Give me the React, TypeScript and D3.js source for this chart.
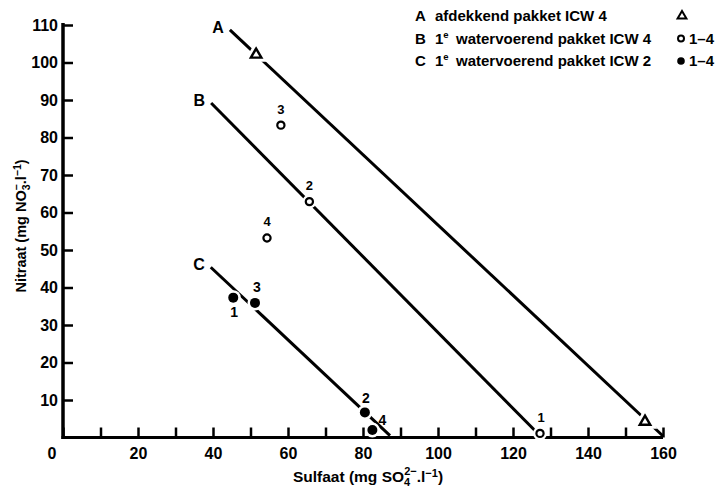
import React, { useEffect, useRef } from "react";
import * as d3 from "d3";

// axis ticks
const xTickValues = [0, 10, 20, 30, 40, 50, 60, 70, 80, 90, 100, 110, 120, 130, 140, 150, 160];
const yTickValues = [10, 20, 30, 40, 50, 60, 70, 80, 90, 100, 110];

// regression lines (end points)
const lineA = [
  { x: 44.5, y: 108.7 },
  { x: 160, y: 0.4 },
];
const lineB = [
  { x: 39.5, y: 89.2 },
  { x: 126.5, y: 1.2 },
];
const lineC = [
  { x: 39.4, y: 45.4 },
  { x: 87.2, y: 0.5 },
];

// measured points
const pointsA = [
  { x: 51.5, y: 102.1 },
  { x: 155.2, y: 4.2 },
];
const pointsB = [
  { id: "1", x: 127.2, y: 1.1 },
  { id: "2", x: 65.7, y: 62.9 },
  { id: "3", x: 58.1, y: 83.3 },
  { id: "4", x: 54.4, y: 53.2 },
];
const pointsC = [
  { id: "1", x: 45.4, y: 37.3 },
  { id: "2", x: 80.5, y: 6.7 },
  { id: "3", x: 51.2, y: 35.9 },
  { id: "4", x: 82.5, y: 2.0 },
];

const legendRows = [
  { key: "A", text: "afdekkend pakket ICW 4", sup: "", range: "" },
  { key: "B", text: "watervoerend pakket ICW 4", sup: "e", range: "1\u20134" },
  { key: "C", text: "watervoerend pakket ICW 2", sup: "e", range: "1\u20134" },
];

const FONT = "'Liberation Sans', Arial, Helvetica, sans-serif";

export default function App() {
  const ref = useRef(null);

  useEffect(() => {
    const w = 720;
    const h = 488;

    const svg = d3.select(ref.current);
    svg.selectAll("*").remove();
    svg.attr("width", w).attr("height", h);

    const x = d3.scaleLinear().domain([0, 160]).range([63, 663]);
    const y = d3.scaleLinear().domain([0, 110]).range([437.5, 25]);

    const g = svg
      .append("g")
      .style("font-family", FONT)
      .style("font-weight", "bold");

    // y axis
    const yAxis = d3
      .axisLeft(y)
      .tickValues(yTickValues)
      .tickSizeInner(-10)
      .tickSizeOuter(0)
      .tickPadding(5)
      .tickFormat((d) => String(d));
    const ya = g.append("g").attr("transform", `translate(${x(0)},0)`).call(yAxis);
    ya.select(".domain").attr("stroke-width", 3.5).attr("d", `M0,${y(0) + 1.5}V${y(110) - 2}`);
    ya.selectAll(".tick line").attr("stroke-width", 2.5);
    ya.selectAll(".tick text")
      .attr("font-size", 16)
      .attr("font-family", FONT)
      .attr("font-weight", "bold")
      .attr("fill", "#000");

    // x axis
    const xAxis = d3
      .axisBottom(x)
      .tickValues(xTickValues)
      .tickSizeInner(-10)
      .tickSizeOuter(0)
      .tickPadding(10)
      .tickFormat((d) => (d % 20 === 0 && d > 0 ? String(d) : ""));
    const xa = g.append("g").attr("transform", `translate(0,${y(0)})`).call(xAxis);
    xa.select(".domain").attr("stroke-width", 3).attr("d", `M${x(0) - 1.5},0H${x(160)}`);
    xa.selectAll(".tick line").attr("stroke-width", 2.5);
    xa.selectAll(".tick text")
      .attr("font-size", 16)
      .attr("font-family", FONT)
      .attr("font-weight", "bold")
      .attr("fill", "#000");
    g.append("text")
      .attr("x", x(0) - 11)
      .attr("y", y(0) + 21)
      .attr("text-anchor", "middle")
      .attr("font-size", 16)
      .text("0");

    // axis titles
    const yt = g
      .append("text")
      .attr("transform", `translate(26,226) rotate(-90)`)
      .attr("text-anchor", "middle")
      .attr("font-size", 14.5);
    yt.append("tspan").text("Nitraat (mg NO");
    yt.append("tspan").attr("dy", 4).attr("font-size", 10.5).text("3");
    yt.append("tspan").attr("dx", -6).attr("dy", -10).attr("font-size", 10.5).text("\u2212");
    yt.append("tspan").attr("dy", 6).text(".l");
    yt.append("tspan").attr("dy", -5).attr("font-size", 10.5).text("\u22121");
    yt.append("tspan").attr("dy", 5).text(")");

    const xt = g
      .append("text")
      .attr("x", 368)
      .attr("y", 482)
      .attr("text-anchor", "middle")
      .attr("font-size", 15.5);
    xt.append("tspan").text("Sulfaat (mg SO");
    xt.append("tspan").attr("dy", 4).attr("font-size", 11).text("4");
    xt.append("tspan").attr("dx", -6).attr("dy", -11).attr("font-size", 11).text("2\u2212");
    xt.append("tspan").attr("dy", 7).text(".l");
    xt.append("tspan").attr("dy", -5).attr("font-size", 11).text("\u22121");
    xt.append("tspan").attr("dy", 5).text(")");

    // lines
    const line = d3
      .line()
      .x((d) => x(d.x))
      .y((d) => y(d.y));

    const lines = [
      { key: "A", data: lineA },
      { key: "B", data: lineB },
      { key: "C", data: lineC },
    ];
    lines.forEach((l) => {
      g.append("path")
        .attr("d", line(l.data))
        .attr("fill", "none")
        .attr("stroke", "#000")
        .attr("stroke-width", 3);
      g.append("text")
        .attr("x", x(l.data[0].x) - 6)
        .attr("y", y(l.data[0].y) + 3)
        .attr("text-anchor", "end")
        .attr("font-size", 16)
        .text(l.key);
    });

    // triangles (A)
    const tri = d3.symbol().type(d3.symbolTriangle).size(48);
    pointsA.forEach((p) => {
      g.append("path")
        .attr("d", tri())
        .attr("transform", `translate(${x(p.x)},${y(p.y)})`)
        .attr("fill", "#fff")
        .attr("stroke", "#fff")
        .attr("stroke-width", 8);
      g.append("path")
        .attr("d", tri())
        .attr("transform", `translate(${x(p.x)},${y(p.y)})`)
        .attr("fill", "#fff")
        .attr("stroke", "#000")
        .attr("stroke-width", 2.4);
    });

    // label offsets for point numbers
    const offB = { "1": [1, -11], "2": [0, -12], "3": [0, -11], "4": [0, -12] };
    const offC = { "1": [1, 19], "2": [1, -9], "3": [2, -11], "4": [10, -5] };

    pointsB.forEach((p) => {
      g.append("circle")
        .attr("cx", x(p.x))
        .attr("cy", y(p.y))
        .attr("r", 7)
        .attr("fill", "#fff");
      g.append("circle")
        .attr("cx", x(p.x))
        .attr("cy", y(p.y))
        .attr("r", 3.6)
        .attr("fill", "#fff")
        .attr("stroke", "#000")
        .attr("stroke-width", 2.2);
      g.append("text")
        .attr("x", x(p.x) + offB[p.id][0])
        .attr("y", y(p.y) + offB[p.id][1])
        .attr("text-anchor", "middle")
        .attr("font-size", 13)
        .text(p.id);
    });

    pointsC.forEach((p) => {
      g.append("circle")
        .attr("cx", x(p.x))
        .attr("cy", y(p.y))
        .attr("r", 7.5)
        .attr("fill", "#fff");
      g.append("circle")
        .attr("cx", x(p.x))
        .attr("cy", y(p.y))
        .attr("r", 5)
        .attr("fill", "#000");
      g.append("text")
        .attr("x", x(p.x) + offC[p.id][0])
        .attr("y", y(p.y) + offC[p.id][1])
        .attr("text-anchor", "middle")
        .attr("font-size", 14)
        .text(p.id);
    });

    // legend
    legendRows.forEach((r, i) => {
      const by = 21 + i * 22.5;
      g.append("text").attr("x", 415).attr("y", by).attr("font-size", 15).text(r.key);
      if (r.sup) {
        const t = g.append("text").attr("x", 435).attr("y", by).attr("font-size", 15);
        t.append("tspan").text("1");
        t.append("tspan").attr("dy", -6).attr("font-size", 9.5).text(r.sup);
        t.append("tspan").attr("x", 456).attr("dy", 6).text(r.text);
      } else {
        g.append("text").attr("x", 435).attr("y", by).attr("font-size", 15).text(r.text);
      }
      if (r.range) {
        g.append("text").attr("x", 689).attr("y", by).attr("font-size", 15).text(r.range);
      }
    });
    g.append("path")
      .attr("d", d3.symbol().type(d3.symbolTriangle).size(34)())
      .attr("transform", "translate(682,16)")
      .attr("fill", "#fff")
      .attr("stroke", "#000")
      .attr("stroke-width", 2);
    g.append("circle")
      .attr("cx", 681)
      .attr("cy", 38.5)
      .attr("r", 3)
      .attr("fill", "#fff")
      .attr("stroke", "#000")
      .attr("stroke-width", 2);
    g.append("circle").attr("cx", 681).attr("cy", 61).attr("r", 3.8).attr("fill", "#000");
  }, []);

  return (
    <svg
      ref={ref}
      style={{ position: "absolute", left: 0, top: 0, background: "#fff" }}
    />
  );
}
